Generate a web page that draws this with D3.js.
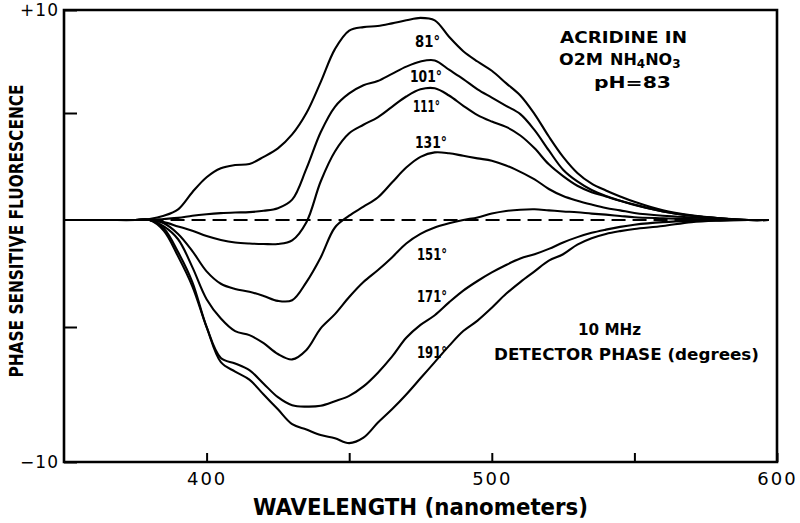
<!DOCTYPE html>
<html>
<head>
<meta charset="utf-8">
<script src="https://cdn.jsdelivr.net/npm/d3@7"></script>
<style>
  html, body { margin: 0; padding: 0; background: #fff; }
  svg { display: block; }
  text { font-family: "DejaVu Sans", sans-serif; fill: #000; }
</style>
</head>
<body>
<svg id="chart" width="800" height="523"></svg>
<script>
// ---- data ----
const wavelengths = [350,365,375,380,385,390,395,400,405,410,415,420,425,430,435,440,445,450,455,460,465,470,475,480,485,490,495,500,505,510,515,520,525,530,535,540,545,550,560,570,580,590,597];

const phase81  = [0,0,0,0.05,0.2,0.5,1.3,2.0,2.42,2.57,2.62,2.95,3.35,4.0,5.0,6.5,8.1,9.0,9.17,9.22,9.35,9.5,9.62,9.5,8.7,8.0,7.5,7.05,6.45,5.85,4.95,3.9,2.95,2.2,1.7,1.38,1.1,0.85,0.45,0.22,0.08,0,0];
const phase101 = [0,0,0,0,0.05,0.1,0.2,0.27,0.32,0.35,0.37,0.43,0.55,0.95,2.4,4.1,5.3,5.95,6.35,6.55,6.9,7.25,7.5,7.55,7.1,6.65,6.15,5.75,5.35,4.95,4.2,3.25,2.35,1.8,1.4,1.12,0.9,0.7,0.4,0.2,0.08,0,0];
const phase111 = [0,0,0,0,-0.1,-0.3,-0.5,-0.75,-0.93,-1.05,-1.1,-1.12,-1.12,-0.95,-0.1,1.8,3.2,4.05,4.45,4.8,5.3,5.8,6.15,6.2,5.85,5.35,4.9,4.6,4.35,3.95,3.35,2.6,2.05,1.6,1.3,1.1,0.9,0.72,0.4,0.2,0.08,0,0];
const phase131 = [0,0,0,0,-0.15,-0.65,-1.45,-2.4,-2.98,-3.22,-3.35,-3.55,-3.78,-3.75,-2.9,-1.75,-0.35,0.2,0.62,1.05,1.75,2.45,2.95,3.16,3.12,3.0,2.88,2.77,2.55,2.25,1.9,1.45,1.12,0.9,0.72,0.56,0.45,0.33,0.2,0.12,0.05,0,0];
const phase151 = [0,0,0,0,-0.3,-0.9,-2.2,-3.7,-4.6,-5.15,-5.3,-5.6,-6.0,-6.2,-5.85,-5.05,-4.4,-3.6,-2.9,-2.35,-1.75,-1.1,-0.65,-0.35,-0.15,0.0,0.12,0.3,0.42,0.48,0.5,0.45,0.4,0.36,0.3,0.25,0.19,0.13,0.08,0.04,0.02,0,0];
const phase171 = [0,0,0,0,-0.4,-1.5,-2.9,-5.0,-6.15,-6.35,-6.6,-7.1,-7.6,-7.9,-7.95,-7.92,-7.75,-7.55,-7.2,-6.7,-6.1,-5.4,-4.9,-4.45,-3.85,-3.3,-2.85,-2.45,-2.1,-1.8,-1.6,-1.35,-1.05,-0.8,-0.6,-0.45,-0.32,-0.22,-0.1,-0.04,-0.02,0,0];
const phase191 = [0,0,0,0,-0.5,-1.7,-3.1,-5.0,-6.3,-6.65,-6.95,-7.5,-8.05,-8.6,-8.8,-9.0,-9.12,-9.3,-9.1,-8.55,-8.05,-7.5,-6.9,-6.3,-5.7,-5.15,-4.7,-4.1,-3.45,-2.9,-2.4,-1.9,-1.6,-1.15,-0.85,-0.65,-0.52,-0.42,-0.28,-0.1,-0.03,0,0];

const seriesNames  = ["81°","101°","111°","131°","151°","171°","191°"];
const seriesValues = [phase81, phase101, phase111, phase131, phase151, phase171, phase191];

const xTickValues = [400,450,500,550,600];
const xTickLabels = {400:"400", 500:"500", 600:"600"};
const yTickValues = [-10,-5,5,10];
const yTickLabels = {"10":"+10", "-10":"\u221210"};
const zeroLineRange = [380, 585];

// ---- scales ----
const svg = d3.select("#chart");
const x = d3.scaleLinear().domain([350,600]).range([64,777]);
const y = d3.scaleLinear().domain([-10,-5,0,5,10]).range([462,327,220,113,10]);

// ---- curves ----
const line = d3.line()
  .x((d,i) => x(wavelengths[i]))
  .y(d => y(d))
  .curve(d3.curveCatmullRom.alpha(0.5));

svg.append("g").selectAll("path")
  .data(seriesValues)
  .join("path")
  .attr("d", d => line(d))
  .attr("fill","none")
  .attr("stroke","#000")
  .attr("stroke-width",2.1)
  .attr("stroke-linejoin","round");

// dashed zero line
svg.append("line")
  .attr("x1", x(zeroLineRange[0])).attr("x2", x(zeroLineRange[1]))
  .attr("y1", y(0)).attr("y2", y(0))
  .attr("stroke","#000").attr("stroke-width",1.8)
  .attr("stroke-dasharray","14,7");

// ---- frame ----
const [x0,x1] = x.range();
const yb = y(-10), yt = y(10);
svg.append("path")
  .attr("d", `M${x0},${yt}L${x1},${yt}L${x1},${yb}L${x0},${yb}Z`)
  .attr("fill","none").attr("stroke","#000").attr("stroke-width",2.6);

// ---- axes ----
const xAxis = d3.axisBottom(x)
  .tickValues(xTickValues)
  .tickSize(-9)
  .tickPadding(10)
  .tickFormat(v => xTickLabels[v] || "");
const gx = svg.append("g").attr("transform", `translate(0,${yb})`).call(xAxis);
gx.select(".domain").remove();
gx.selectAll(".tick line").attr("stroke","#000").attr("stroke-width",2);
gx.selectAll(".tick text")
  .style("font-family","DejaVu Sans, sans-serif")
  .style("font-size","18px").style("letter-spacing","2px").attr("fill","#000");

const yAxis = d3.axisLeft(y)
  .tickValues(yTickValues)
  .tickSize(-13)
  .tickPadding(5)
  .tickFormat(v => yTickLabels[String(v)] || "");
const gy = svg.append("g").attr("transform", `translate(${x0},0)`).call(yAxis);
gy.select(".domain").remove();
gy.selectAll(".tick line").attr("stroke","#000").attr("stroke-width",2);
gy.selectAll(".tick text")
  .style("font-family","DejaVu Sans, sans-serif")
  .style("font-size","17px").style("letter-spacing","1px").attr("fill","#000");

// ---- axis titles ----
svg.append("text")
  .attr("transform","translate(23,231) rotate(-90)")
  .attr("text-anchor","middle")
  .attr("font-size",19).attr("font-weight","bold")
  .attr("textLength",293).attr("lengthAdjust","spacingAndGlyphs")
  .text("PHASE SENSITIVE FLUORESCENCE");
svg.append("text")
  .attr("transform","translate(24,244) rotate(-90)")
  .attr("font-size",14).attr("font-weight","bold")
  .text(",");

svg.append("text")
  .attr("x",253).attr("y",515)
  .attr("font-size",23).attr("font-weight","bold")
  .attr("textLength",335).attr("lengthAdjust","spacingAndGlyphs")
  .text("WAVELENGTH (nanometers)");

// ---- annotations ----
const ann = svg.append("g").attr("font-weight","bold");
ann.append("text").attr("x",560).attr("y",43).attr("font-size",16)
  .attr("textLength",127).attr("lengthAdjust","spacingAndGlyphs").text("ACRIDINE IN");
const t2 = ann.append("text").attr("x",559).attr("y",65).attr("font-size",16);
t2.append("tspan").text("O2M").attr("textLength",44).attr("lengthAdjust","spacingAndGlyphs");
t2.append("tspan").attr("x",610).text("NH");
t2.append("tspan").attr("font-size",12).attr("dy",3).text("4");
t2.append("tspan").attr("dy",-3).text("NO");
t2.append("tspan").attr("font-size",12).attr("dy",3).text("3");
ann.append("text").attr("x",594).attr("y",88).attr("font-size",16)
  .attr("textLength",77).attr("lengthAdjust","spacingAndGlyphs").text("pH=83");
ann.append("text").attr("x",578).attr("y",335).attr("font-size",16)
  .attr("textLength",63).attr("lengthAdjust","spacingAndGlyphs").text("10 MHz");
ann.append("text").attr("x",494).attr("y",360).attr("font-size",16)
  .attr("textLength",265).attr("lengthAdjust","spacingAndGlyphs").text("DETECTOR PHASE (degrees)");

// curve labels
const labelPos = [[415,47],[410,82],[413,112],[415,148],[417,260],[417,302],[417,358]];
const labelWidth = [25,32,27,32,30,30,30];
svg.append("g").selectAll("text")
  .data(seriesNames)
  .join("text")
  .attr("x",(d,i) => labelPos[i][0])
  .attr("y",(d,i) => labelPos[i][1])
  .attr("font-size",15).attr("font-weight","bold")
  .attr("textLength",(d,i) => labelWidth[i]).attr("lengthAdjust","spacingAndGlyphs")
  .text(d => d);
</script>
</body>
</html>
